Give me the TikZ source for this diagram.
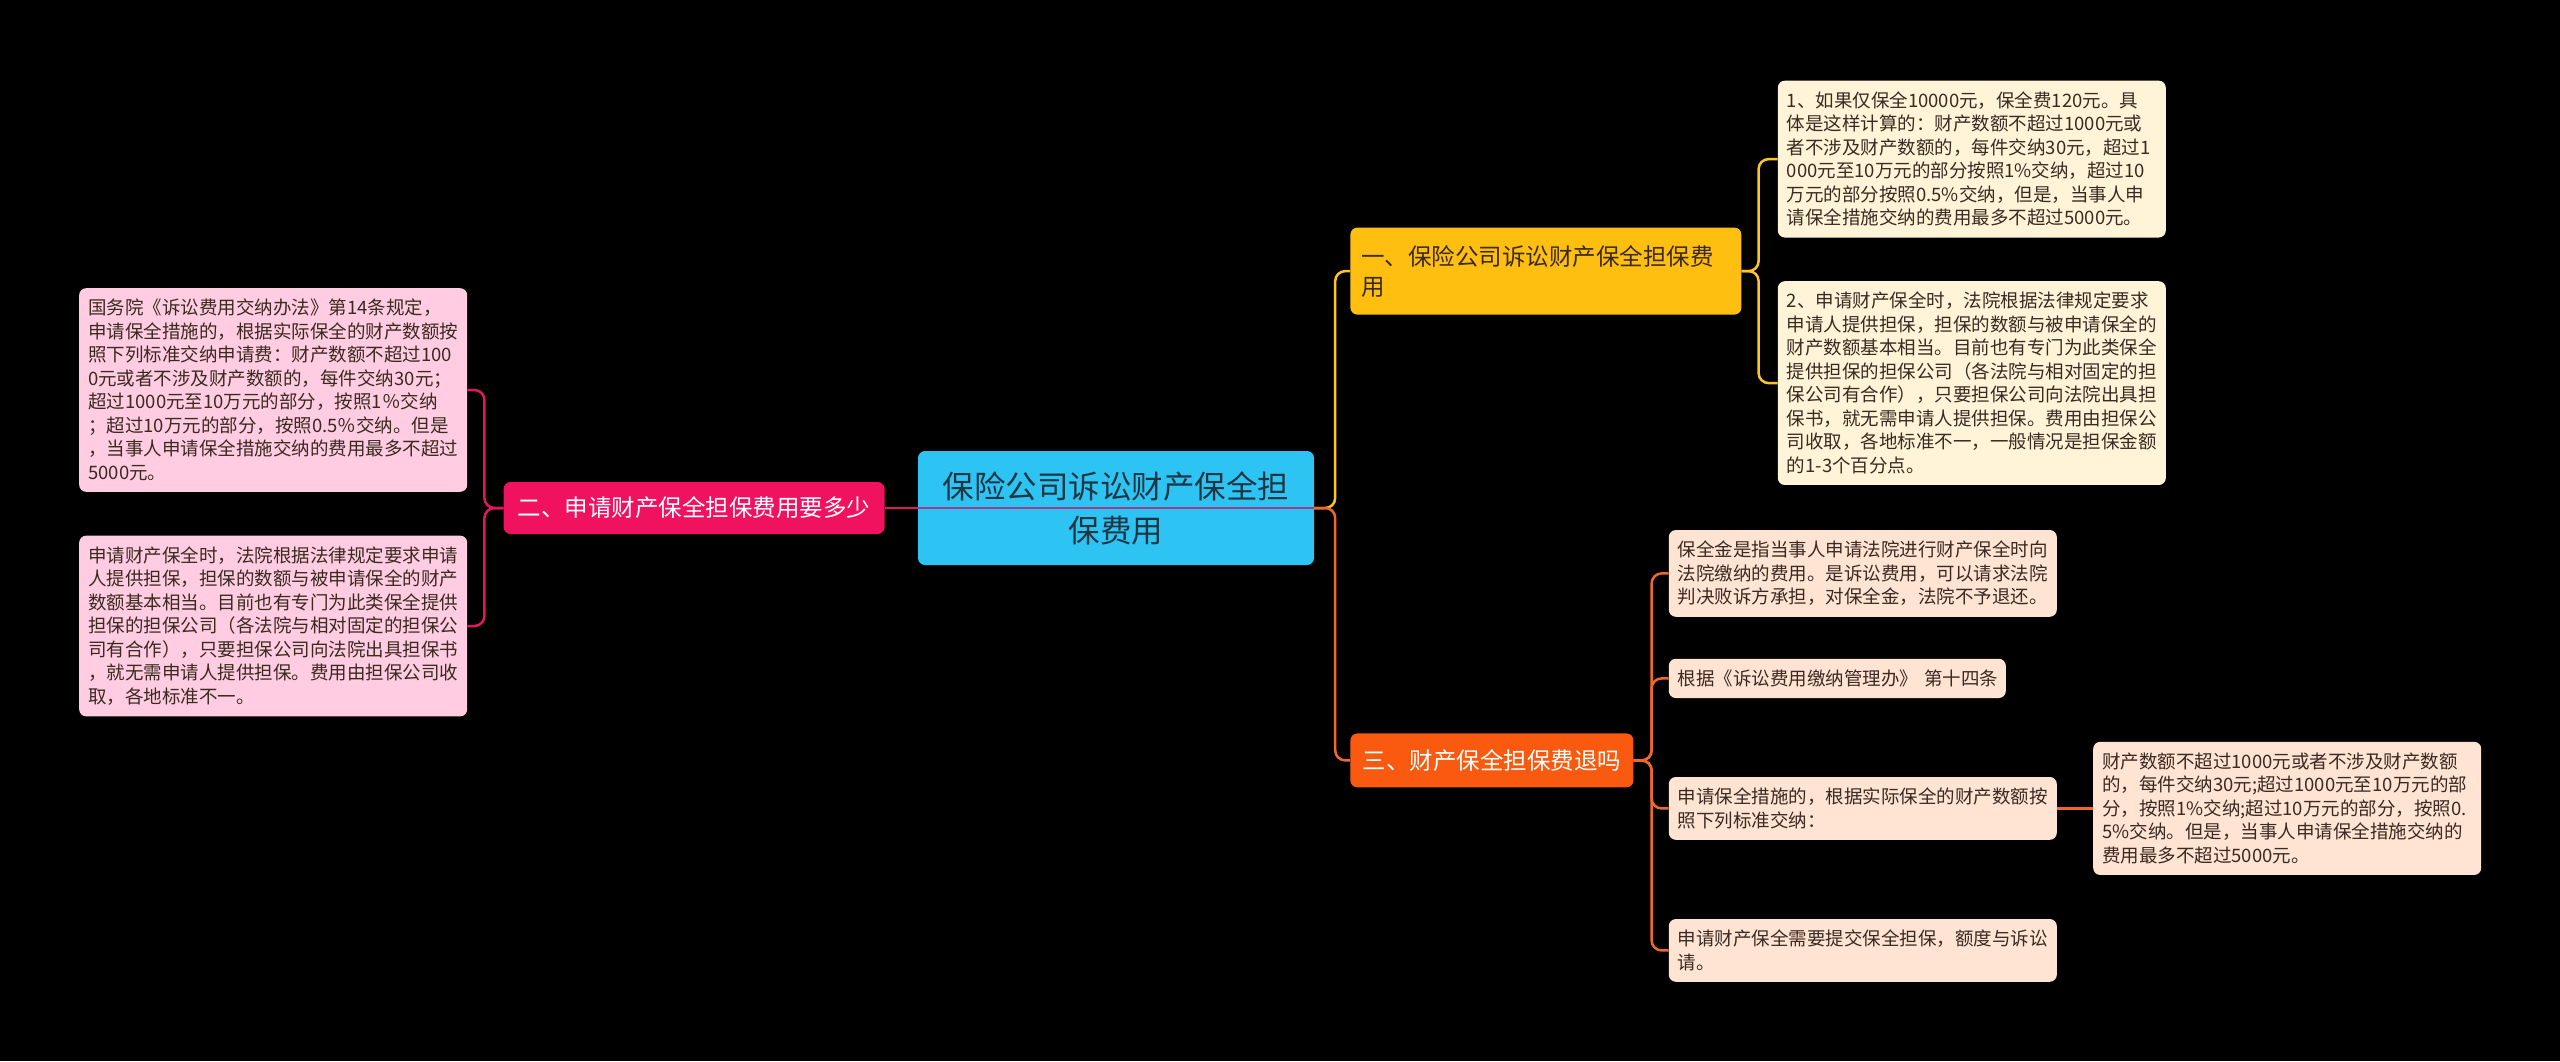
\documentclass[tikz,border=0pt]{standalone}
\usepackage{fontspec}
\setmainfont{Noto Sans CJK SC}
\usepackage{tikz}
\usetikzlibrary{positioning}

\definecolor{rootblue}{HTML}{2DC4F3}
\definecolor{roottext}{HTML}{1E3644}
\definecolor{branchpink}{HTML}{F0115F}
\definecolor{leafpink}{HTML}{FFCCE1}
\definecolor{branchamber}{HTML}{FFBF10}
\definecolor{leafcream}{HTML}{FFF4D7}
\definecolor{branchorange}{HTML}{FA5A0F}
\definecolor{leafpeach}{HTML}{FFE3D3}
\definecolor{darktext}{HTML}{3A2A22}
\definecolor{linepink}{HTML}{E2175F}
\definecolor{lineyellow}{HTML}{FFC42A}
\definecolor{lineorange}{HTML}{F0682A}
\definecolor{lineover}{HTML}{A33C8C}

\begin{document}
\begin{tikzpicture}[
    x=1pt, y=-1pt,
    every node/.style={rounded corners=7pt, inner xsep=9pt, inner ysep=11pt},
    rootbox/.style={fill=rootblue, text=roottext, align=center, text width=378pt,
      minimum height=114pt, font=\fontsize{31.5pt}{44pt}\selectfont},
    branch/.style={minimum height=52pt, inner xsep=12pt,
      font=\fontsize{23.5pt}{30pt}\selectfont},
    leaf/.style={align=left, text width=370pt, text=darktext,
      font=\fontsize{18.5pt}{23.5pt}\selectfont},
    pinkleaf/.style={leaf, fill=leafpink},
    creamleaf/.style={leaf, fill=leafcream},
    peachleaf/.style={leaf, fill=leafpeach},
    link/.style={line width=2.5pt, rounded corners=10pt},
  ]

  % background and page size
  \fill[black] (0,0) rectangle (2560,1061);
  \useasboundingbox (0,0) rectangle (2560,1061);

  % centre and the three branches
  \node[rootbox] (root) at (1116,508) {保险公司诉讼财产保全担\\保费用};
  \node[branch, fill=branchpink, text=white, minimum width=381pt,
    left=33pt of root] (fee)
    {二、申请财产保全担保费用要多少};
  \node[branch, fill=branchamber, text=darktext, align=left, text width=369pt,
    inner xsep=11pt, inner ysep=15pt, minimum height=87pt,
    above right=136pt and 36pt of root] (cost)
    {一、保险公司诉讼财产保全担保费\\用};
  \node[branch, fill=branchorange, text=white, inner xsep=11pt,
    minimum width=283pt, minimum height=54pt,
    below right=168pt and 36pt of root] (refund)
    {三、财产保全担保费退吗};

  % leaves of branch two
  \node[pinkleaf, left=36pt of fee, yshift=118pt] (feeA)
    {国务院《诉讼费用交纳办法》第14条规定，\\
     申请保全措施的，根据实际保全的财产数额按\\
     照下列标准交纳申请费：财产数额不超过100\\
     0元或者不涉及财产数额的，每件交纳30元；\\
     超过1000元至10万元的部分，按照1％交纳\\
     ；超过10万元的部分，按照0.5％交纳。但是\\
     ，当事人申请保全措施交纳的费用最多不超过\\
     5000元。};
  \node[pinkleaf, left=36pt of fee, yshift=-118pt] (feeB)
    {申请财产保全时，法院根据法律规定要求申请\\
     人提供担保，担保的数额与被申请保全的财产\\
     数额基本相当。目前也有专门为此类保全提供\\
     担保的担保公司（各法院与相对固定的担保公\\
     司有合作），只要担保公司向法院出具担保书\\
     ，就无需申请人提供担保。费用由担保公司收\\
     取，各地标准不一。};

  % leaves of branch one
  \node[creamleaf, right=36pt of cost, yshift=112pt] (costA)
    {1、如果仅保全10000元，保全费120元。具\\
     体是这样计算的：财产数额不超过1000元或\\
     者不涉及财产数额的，每件交纳30元，超过1\\
     000元至10万元的部分按照1\%交纳，超过10\\
     万元的部分按照0.5\%交纳，但是，当事人申\\
     请保全措施交纳的费用最多不超过5000元。};
  \node[creamleaf, right=36pt of cost, yshift=-112pt] (costB)
    {2、申请财产保全时，法院根据法律规定要求\\
     申请人提供担保，担保的数额与被申请保全的\\
     财产数额基本相当。目前也有专门为此类保全\\
     提供担保的担保公司（各法院与相对固定的担\\
     保公司有合作），只要担保公司向法院出具担\\
     保书，就无需申请人提供担保。费用由担保公\\
     司收取，各地标准不一，一般情况是担保金额\\
     的1-3个百分点。};

  % leaves of branch three
  \node[peachleaf, right=35pt of refund, yshift=187pt] (refundA)
    {保全金是指当事人申请法院进行财产保全时向\\
     法院缴纳的费用。是诉讼费用，可以请求法院\\
     判决败诉方承担，对保全金，法院不予退还。};
  \node[peachleaf, text width=319pt, right=35pt of refund, yshift=82pt] (refundB)
    {\mbox{根据《诉讼费用缴纳管理办》 第十四条}};
  \node[peachleaf, right=35pt of refund, yshift=-48pt] (refundC)
    {申请保全措施的，根据实际保全的财产数额按\\
     照下列标准交纳：};
  \node[peachleaf, right=35pt of refund, yshift=-190pt] (refundD)
    {申请财产保全需要提交保全担保，额度与诉讼\\
     请。};
  \node[peachleaf, right=36pt of refundC] (refundC1)
    {财产数额不超过1000元或者不涉及财产数额\\
     的，每件交纳30元;超过1000元至10万元的部\\
     分，按照1\%交纳;超过10万元的部分，按照0.\\
     5\%交纳。但是，当事人申请保全措施交纳的\\
     费用最多不超过5000元。};

  % connectors
  \draw[link, draw=linepink] (fee.west) -- ++(-19,0) |- (feeA.east);
  \draw[link, draw=linepink] (fee.west) -- ++(-19,0) |- (feeB.east);
  \draw[link, draw=linepink] (fee.east) -- (root.west);
  \draw[link, draw=lineover] (root.west) -- (root.east);

  \draw[link, draw=lineyellow] (root.east) -- ++(21,0) |- (cost.west);
  \draw[link, draw=lineorange] (root.east) -- ++(21,0) |- (refund.west);

  \draw[link, draw=lineyellow] (cost.east) -- ++(17,0) |- (costA.west);
  \draw[link, draw=lineyellow] (cost.east) -- ++(17,0) |- (costB.west);

  \foreach \leafname in {refundA, refundB, refundC, refundD}
    \draw[link, draw=lineorange] (refund.east) -- ++(18,0) |- (\leafname.west);
  \draw[link, draw=lineorange] (refundC.east) -- (refundC1.west);

\end{tikzpicture}
\end{document}
